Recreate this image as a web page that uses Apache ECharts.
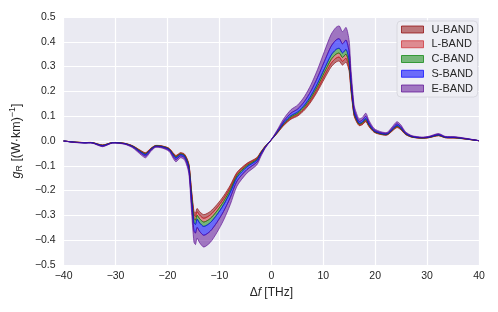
<!DOCTYPE html>
<html>
<head>
<meta charset="utf-8">
<script src="https://cdn.jsdelivr.net/npm/echarts@6/dist/echarts.min.js"></script>
<style>
html,body{margin:0;padding:0;background:#fff;}
#chart{width:498px;height:312px;}
</style>
</head>
<body>
<div id="chart"></div>
<script>
// Frequency shift Δf [THz]
const freq = [-40, -38, -36, -34.5, -32.5, -30.6, -28.3, -26.7, -25, -24.2, -23.2, -22.3, -21, -19.7, -18.4, -17.5, -16.7, -15.9, -15.4, -14.9, -14.6, -14.3, -13.8, -13, -11.75, -10.5, -9.2, -7.9, -6.6, -4.7, -2.8, -2, -1.2, -0.4, 0.35, 1.3, 1.95, 2.55, 3.8, 5.1, 6.4, 7.65, 8.9, 10.2, 11.5, 12.45, 13.1, 13.7, 14.4, 15.0, 15.3, 15.65, 15.95, 16.3, 16.9, 17.55, 18.2, 18.8, 19.8, 21.1, 22.3, 23.3, 24.2, 24.9, 25.85, 27.1, 29, 30.3, 32.2, 33.5, 35.4, 37.3, 40];

// Band edges of g_R [(W·km)^-1]: edge0 = U-band inner edge ... edge5 = E-band outer edge
const edge0 = [0, -0.004, -0.006, -0.006, -0.016, -0.006, -0.009, -0.019, -0.040, -0.047, -0.029, -0.018, -0.020, -0.029, -0.058, -0.047, -0.053, -0.090, -0.190, -0.283, -0.290, -0.272, -0.285, -0.297, -0.284, -0.257, -0.222, -0.178, -0.126, -0.090, -0.067, -0.043, -0.021, -0.004, 0.012, 0.035, 0.052, 0.066, 0.088, 0.101, 0.125, 0.158, 0.200, 0.250, 0.298, 0.318, 0.322, 0.306, 0.318, 0.280, 0.210, 0.145, 0.100, 0.082, 0.062, 0.066, 0.078, 0.058, 0.035, 0.026, 0.024, 0.040, 0.054, 0.046, 0.026, 0.015, 0.011, 0.013, 0.021, 0.013, 0.012, 0.008, 0.001];
const edge1 = [0, -0.0042, -0.0063, -0.0063, -0.0168, -0.0063, -0.0095, -0.020, -0.042, -0.0494, -0.0305, -0.0189, -0.021, -0.0305, -0.0609, -0.0494, -0.0557, -0.0945, -0.1995, -0.2972, -0.3045, -0.2856, -0.2993, -0.3119, -0.2982, -0.2699, -0.2331, -0.1869, -0.1323, -0.0945, -0.0704, -0.0452, -0.0221, -0.0042, 0.0126, 0.0368, 0.0546, 0.0693, 0.0924, 0.1061, 0.1313, 0.1659, 0.210, 0.2625, 0.3129, 0.3339, 0.3381, 0.3213, 0.3339, 0.294, 0.2205, 0.1523, 0.105, 0.0861, 0.0651, 0.0693, 0.0819, 0.0609, 0.0368, 0.0273, 0.0252, 0.042, 0.0567, 0.0483, 0.0273, 0.0158, 0.0116, 0.0137, 0.0221, 0.0137, 0.0126, 0.0084, 0.0011];
const edge2 = [0, -0.0044, -0.0066, -0.0066, -0.0176, -0.0066, -0.0099, -0.0209, -0.044, -0.0517, -0.0319, -0.0198, -0.022, -0.0319, -0.0638, -0.0517, -0.0583, -0.099, -0.209, -0.3113, -0.319, -0.2992, -0.3135, -0.3267, -0.3124, -0.2827, -0.2442, -0.1958, -0.1386, -0.099, -0.0737, -0.0473, -0.0231, -0.0044, 0.0132, 0.0385, 0.0572, 0.0726, 0.0968, 0.1111, 0.1375, 0.1738, 0.220, 0.275, 0.3278, 0.3498, 0.3542, 0.3366, 0.3498, 0.308, 0.231, 0.1595, 0.110, 0.0902, 0.0682, 0.0726, 0.0858, 0.0638, 0.0385, 0.0286, 0.0264, 0.044, 0.0594, 0.0506, 0.0286, 0.0165, 0.0121, 0.0143, 0.0231, 0.0143, 0.0132, 0.0088, 0.0011];
const edge3 = [0, -0.0046, -0.007, -0.007, -0.0186, -0.007, -0.0104, -0.022, -0.0464, -0.0545, -0.0336, -0.0209, -0.0232, -0.0336, -0.0673, -0.0545, -0.0615, -0.1044, -0.2204, -0.3283, -0.3364, -0.3155, -0.3306, -0.3445, -0.3294, -0.2981, -0.2575, -0.2065, -0.1462, -0.1044, -0.0777, -0.0499, -0.0244, -0.0046, 0.0139, 0.0406, 0.0603, 0.0766, 0.1021, 0.1172, 0.145, 0.1833, 0.232, 0.290, 0.3457, 0.3689, 0.3735, 0.355, 0.3689, 0.3248, 0.2436, 0.1682, 0.116, 0.0951, 0.0719, 0.0766, 0.0905, 0.0673, 0.0406, 0.0302, 0.0278, 0.0464, 0.0626, 0.0534, 0.0302, 0.0174, 0.0128, 0.0151, 0.0244, 0.0151, 0.0139, 0.0093, 0.0012];
const edge4 = [0, -0.0051, -0.0077, -0.0077, -0.0205, -0.0077, -0.0115, -0.0243, -0.0512, -0.0602, -0.0371, -0.023, -0.0256, -0.0371, -0.0742, -0.0602, -0.0678, -0.1152, -0.2432, -0.3622, -0.3712, -0.3482, -0.3648, -0.3802, -0.3635, -0.329, -0.2842, -0.2278, -0.1613, -0.1152, -0.0858, -0.055, -0.0269, -0.0051, 0.0154, 0.0448, 0.0666, 0.0845, 0.1126, 0.1293, 0.160, 0.2022, 0.256, 0.320, 0.3814, 0.407, 0.4122, 0.3917, 0.407, 0.3584, 0.2688, 0.1856, 0.128, 0.105, 0.0794, 0.0845, 0.0998, 0.0742, 0.0448, 0.0333, 0.0307, 0.0512, 0.0691, 0.0589, 0.0333, 0.0192, 0.0141, 0.0166, 0.0269, 0.0166, 0.0154, 0.0102, 0.0013];
const edge5 = [0, -0.0058, -0.0086, -0.0086, -0.023, -0.0086, -0.013, -0.0274, -0.0576, -0.0677, -0.0418, -0.0259, -0.0288, -0.0418, -0.0835, -0.0677, -0.0763, -0.1296, -0.2736, -0.4075, -0.4176, -0.3917, -0.4104, -0.4277, -0.409, -0.3701, -0.3197, -0.2563, -0.1814, -0.1296, -0.0965, -0.0619, -0.0302, -0.0058, 0.0173, 0.0504, 0.0749, 0.095, 0.1267, 0.1454, 0.180, 0.2275, 0.288, 0.360, 0.4291, 0.4579, 0.4637, 0.4406, 0.4579, 0.4032, 0.3024, 0.2088, 0.144, 0.1181, 0.0893, 0.095, 0.1123, 0.0835, 0.0504, 0.0374, 0.0346, 0.0576, 0.0778, 0.0662, 0.0374, 0.0216, 0.0158, 0.0187, 0.0302, 0.0187, 0.0173, 0.0115, 0.0014];

const bandNames = ['U-BAND', 'L-BAND', 'C-BAND', 'S-BAND', 'E-BAND'];
const bandLower = [edge0, edge1, edge2, edge3, edge4];
const bandUpper = [edge1, edge2, edge3, edge4, edge5];
const xTicks = [-40, -30, -20, -10, 0, 10, 20, 30, 40];
const yTicks = [-0.5, -0.4, -0.3, -0.2, -0.1, 0, 0.1, 0.2, 0.3, 0.4, 0.5];

const fills = ['rgba(139,0,0,0.5)', 'rgba(205,40,45,0.5)', 'rgba(0,128,0,0.5)', 'rgba(0,0,255,0.55)', 'rgba(90,10,145,0.52)'];
const strokes = ['rgba(139,0,0,0.7)', 'rgba(205,40,45,0.7)', 'rgba(0,128,0,0.7)', 'rgba(0,0,255,0.7)', 'rgba(90,10,145,0.7)'];

const FONT = '"Liberation Sans", Arial, sans-serif';
const TXT = '#262626';
const fmtX = v => (v < 0 ? '\u2212' : '') + Math.abs(v).toFixed(0);
const fmtY = v => (v < 0 ? '\u2212' : '') + Math.abs(v).toFixed(1);

const chart = echarts.init(document.getElementById('chart'), null, {renderer: 'canvas'});

const series = bandNames.map((name, b) => ({
  type: 'custom',
  name: name,
  data: [[0, 0]],
  clip: true,
  silent: true,
  z: 2 + b,
  itemStyle: {color: fills[b], borderColor: strokes[b]},
  renderItem: function (params, api) {
    const up = bandUpper[b], lo = bandLower[b];
    const pts = [];
    for (let i = 0; i < freq.length; i++) pts.push(api.coord([freq[i], up[i]]));
    for (let i = freq.length - 1; i >= 0; i--) pts.push(api.coord([freq[i], lo[i]]));
    return {
      type: 'polygon',
      shape: {points: pts, smooth: 0.25},
      style: {fill: fills[b], stroke: strokes[b], lineWidth: 0.9}
    };
  }
}));

chart.setOption({
  animation: false,
  backgroundColor: '#ffffff',
  textStyle: {fontFamily: FONT},
  grid: {left: 60.5, right: 19, top: 17, bottom: 47, show: true, backgroundColor: '#EAEAF2', borderWidth: 0},
  legend: {
    show: true,
    orient: 'vertical',
    left: 397,
    top: 21,
    padding: [3, 4, 3, 4],
    itemWidth: 22,
    itemHeight: 7,
    itemGap: 3.75,
    icon: 'rect',
    backgroundColor: '#EEEEF4',
    borderColor: '#D3D3DA',
    borderWidth: 0.8,
    borderRadius: 4,
    selectedMode: false,
    textStyle: {fontFamily: FONT, fontSize: 11, color: TXT, lineHeight: 11, padding: [0, 0, 0, 3]},
    data: bandNames.map((n, b) => ({name: n, itemStyle: {color: fills[b], borderColor: strokes[b], borderWidth: 1}}))
  },
  xAxis: {
    type: 'value',
    min: xTicks[0],
    max: xTicks[xTicks.length - 1],
    interval: 10,
    axisLine: {show: false},
    axisTick: {show: false},
    splitLine: {show: true, lineStyle: {color: '#ffffff', width: 1.2}},
    axisLabel: {fontFamily: FONT, fontSize: 10.5, color: TXT, margin: 6, formatter: fmtX},
    name: '\u0394{i|f} [THz]',
    nameLocation: 'middle',
    nameGap: 19,
    nameTextStyle: {fontFamily: FONT, fontSize: 12, color: TXT, rich: {i: {fontFamily: FONT, fontSize: 12, fontStyle: 'italic', color: TXT}}}
  },
  yAxis: {
    type: 'value',
    min: yTicks[0],
    max: yTicks[yTicks.length - 1],
    interval: 0.1,
    axisLine: {show: false},
    axisTick: {show: false},
    splitLine: {show: true, lineStyle: {color: '#ffffff', width: 1.2}},
    axisLabel: {fontFamily: FONT, fontSize: 10.5, color: TXT, margin: 8, formatter: fmtY},
    name: '{g|g}{sub|R} [(W\u00b7km){sup|\u22121}]',
    nameLocation: 'middle',
    nameRotate: 90,
    nameGap: 30,
    nameTextStyle: {
      fontFamily: FONT, fontSize: 12.5, color: TXT,
      rich: {
        g: {fontFamily: FONT, fontSize: 12.5, fontStyle: 'italic', color: TXT},
        sub: {fontFamily: FONT, fontSize: 9, color: TXT, padding: [6, 0, 0, 0]},
        sup: {fontFamily: FONT, fontSize: 9, color: TXT, padding: [0, 0, 8, 0]}
      }
    }
  },
  series: series
});
</script>
</body>
</html>
